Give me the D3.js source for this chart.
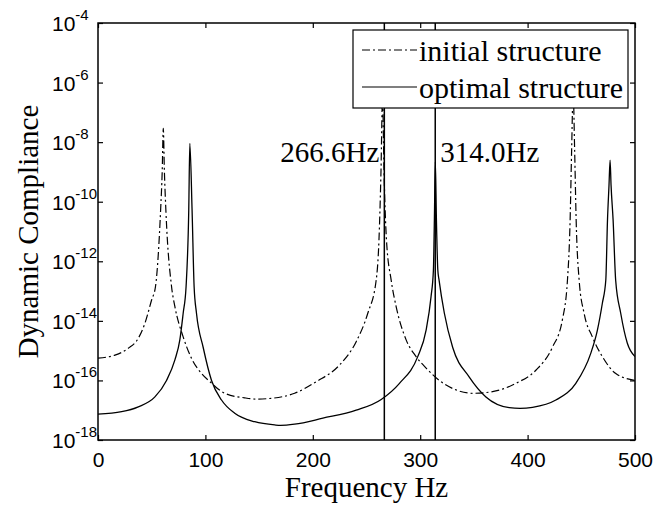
<!DOCTYPE html>
<html><head><meta charset="utf-8">
<script src="https://cdn.jsdelivr.net/npm/d3@7"></script>
<style>body{margin:0;background:#fff}</style>
</head><body><svg id="c" width="666" height="506"></svg>
<script>
const initialFreq = [0, 15.8, 28.2, 37.5, 43.7, 49.9, 53.5, 58.3, 59.8, 60.8, 61.8, 63.2, 68.5, 71.6, 79.3, 87.1, 96.4, 104.1, 118.0, 136.6, 148.0, 158.3, 183.1, 203.3, 224.9, 240.4, 251.2, 259.0, 261.6, 263.5, 264.9, 266.3, 268.6, 273.0, 277.6, 286.9, 296.2, 305.5, 317.8, 333.4, 348.8, 367.4, 389.1, 407.7, 423.1, 432.4, 437.1, 439.6, 441.0, 442.4, 443.8, 445.2, 448.0, 452.6, 460.3, 469.6, 482.1, 500];
const initialComp = [5.6e-16, 7.1e-16, 1.2e-15, 2.6e-15, 8.3e-15, 5.0e-14, 1.4e-13, 5.2e-11, 1.1e-9, 2.9e-8, 1.1e-9, 5.2e-11, 1.4e-13, 3.0e-14, 2.9e-15, 5.5e-16, 1.7e-16, 9.1e-17, 3.7e-17, 2.6e-17, 2.35e-17, 2.45e-17, 3.7e-17, 9.1e-17, 3.3e-16, 2.0e-15, 1.8e-14, 2.3e-13, 5.1e-12, 1.1e-9, 3.2e-7, 1.1e-9, 5.1e-12, 2.3e-13, 3.0e-14, 2.3e-15, 6.3e-16, 2.6e-16, 1.0e-16, 4.8e-17, 3.7e-17, 4.2e-17, 8.0e-17, 2.2e-16, 1.3e-15, 1.1e-14, 2.3e-13, 2.5e-11, 5.5e-9, 5.0e-7, 5.5e-9, 2.5e-11, 2.3e-13, 1.8e-14, 2.9e-15, 6.3e-16, 1.7e-16, 1.0e-16];
const optimalFreq = [0, 22.0, 37.5, 53.0, 63.8, 71.6, 76.2, 79.3, 82.0, 84.5, 85.5, 87.6, 89.5, 91.7, 97.9, 105.7, 115.0, 127.3, 145.9, 164.5, 170.0, 183.1, 209.4, 240.4, 263.7, 280.7, 297.7, 305.5, 310.1, 312.3, 313.2, 314.1, 315.1, 316.4, 317.6, 322.5, 330.2, 345.7, 361.2, 382.9, 393.0, 404.6, 426.3, 444.9, 458.8, 465.0, 469.6, 472.8, 474.4, 475.8, 476.8, 477.7, 479.6, 482.0, 486.7, 492.8, 500];
const optimalComp = [7.4e-18, 8.9e-18, 1.3e-17, 2.8e-17, 1.0e-16, 4.9e-16, 2.3e-15, 1.8e-14, 1.4e-13, 5.2e-11, 9.1e-9, 5.2e-11, 1.4e-13, 1.8e-14, 1.3e-15, 1.0e-16, 2.2e-17, 7.9e-18, 4.1e-18, 3.2e-18, 3.1e-18, 3.4e-18, 5.4e-18, 1.0e-17, 2.3e-17, 8.0e-17, 6.3e-16, 4.9e-15, 6.5e-14, 5.1e-13, 2.5e-11, 2.2e-9, 2.5e-11, 5.1e-13, 2.3e-13, 1.8e-14, 1.3e-15, 1.3e-16, 2.8e-17, 1.22e-17, 1.15e-17, 1.25e-17, 2.2e-17, 8.0e-17, 8.1e-16, 4.9e-15, 3.9e-14, 2.3e-13, 2.5e-11, 3.6e-10, 2.5e-9, 3.6e-10, 2.5e-11, 2.3e-13, 1.8e-14, 1.8e-15, 6.3e-16];
const markerFreq = [266.6, 314.0];
const markerLabels = ["266.6Hz", "314.0Hz"];
const xTicks = [0, 100, 200, 300, 400, 500];
const yTicks = [1e-4, 1e-6, 1e-8, 1e-10, 1e-12, 1e-14, 1e-16, 1e-18];
const yTickExp = ["-4", "-6", "-8", "-10", "-12", "-14", "-16", "-18"];
const legendLabels = ["initial structure", "optimal structure"];
const xLabel = "Frequency Hz";
const yLabel = "Dynamic Compliance";

const svg = d3.select("#c");
const L = 98, R = 635, T = 23, B = 440;
const x = d3.scaleLinear().domain([0, 500]).range([L, R]);
const y = d3.scaleLog().domain([1e-18, 1e-4]).range([B, T]);
const serif = "'Liberation Serif','Times New Roman',serif";
const sans = "'Liberation Sans',Arial,sans-serif";

svg.append("rect").attr("width", 666).attr("height", 506).attr("fill", "#fff");
svg.append("defs").append("clipPath").attr("id", "clip")
  .append("rect").attr("x", L).attr("y", T).attr("width", R - L).attr("height", B - T);

const g = svg.append("g").attr("clip-path", "url(#clip)");
const line = d3.line().curve(d3.curveMonotoneX).x(d => x(d[0])).y(d => y(d[1]));
const initData = initialFreq.map((f, i) => [f, initialComp[i]]);
const optData = optimalFreq.map((f, i) => [f, optimalComp[i]]);
const dashPat = "8,3,2,3";

g.append("path").datum(initData).attr("d", line).attr("fill", "none")
  .attr("stroke", "#000").attr("stroke-width", 1.2).attr("stroke-dasharray", dashPat);
g.append("path").datum(optData).attr("d", line).attr("fill", "none")
  .attr("stroke", "#000").attr("stroke-width", 1.3);
g.selectAll("line.mk").data(markerFreq).enter().append("line")
  .attr("x1", d => x(d)).attr("x2", d => x(d)).attr("y1", T).attr("y2", B)
  .attr("stroke", "#000").attr("stroke-width", 1.5);

// axes (box with inward ticks)
const ax = svg.append("g");
ax.append("g").attr("transform", `translate(0,${B})`)
  .call(d3.axisBottom(x).tickValues(xTicks).tickSizeInner(-5).tickSizeOuter(0).tickPadding(8))
  .call(s => { s.select(".domain").remove(); s.selectAll("text").attr("font-family", sans).attr("font-size", 21).attr("fill", "#000").attr("dy", "0.9em"); });
ax.append("g").attr("transform", `translate(0,${T})`)
  .call(d3.axisTop(x).tickValues(xTicks).tickSizeInner(-5).tickSizeOuter(0).tickFormat(""))
  .call(s => s.select(".domain").remove());
ax.append("g").attr("transform", `translate(${L},0)`)
  .call(d3.axisLeft(y).tickValues(yTicks).tickSizeInner(-5).tickSizeOuter(0).tickFormat(""))
  .call(s => s.select(".domain").remove());
ax.append("g").attr("transform", `translate(${R},0)`)
  .call(d3.axisRight(y).tickValues(yTicks).tickSizeInner(-5).tickSizeOuter(0).tickFormat(""))
  .call(s => s.select(".domain").remove());
ax.selectAll(".tick line").attr("stroke", "#000").attr("stroke-width", 1.2);
svg.append("rect").attr("x", L).attr("y", T).attr("width", R - L).attr("height", B - T)
  .attr("fill", "none").attr("stroke", "#000").attr("stroke-width", 1.5);

// y tick labels 10^n
const yl = svg.append("g");
yTicks.forEach((v, i) => {
  const t = yl.append("text").attr("x", 52).attr("y", y(v) + 8)
    .attr("font-family", sans).attr("font-size", 21).attr("fill", "#000");
  t.append("tspan").text("10");
  t.append("tspan").attr("dy", -11).attr("font-size", 15).text(yTickExp[i]);
});

// axis titles
svg.append("text").attr("x", (L + R) / 2).attr("y", 497).attr("text-anchor", "middle")
  .attr("font-family", serif).attr("font-size", 29).attr("fill", "#000").text(xLabel);
svg.append("text").attr("transform", `translate(38,${(T + B) / 2}) rotate(-90)`).attr("text-anchor", "middle")
  .attr("font-family", serif).attr("font-size", 29).attr("fill", "#000").text(yLabel);

// marker labels
svg.append("text").attr("x", x(markerFreq[0]) - 5).attr("y", 162).attr("text-anchor", "end")
  .attr("font-family", serif).attr("font-size", 29).attr("fill", "#000").text(markerLabels[0]);
svg.append("text").attr("x", x(markerFreq[1]) + 5).attr("y", 162).attr("text-anchor", "start")
  .attr("font-family", serif).attr("font-size", 29).attr("fill", "#000").text(markerLabels[1]);

// legend
const lg = svg.append("g");
lg.append("rect").attr("x", 353).attr("y", 30).attr("width", 275).attr("height", 78)
  .attr("fill", "#fff").attr("stroke", "#000").attr("stroke-width", 1.2);
const rows = [50, 87];
legendLabels.forEach((lab, i) => {
  lg.append("line").attr("x1", 362).attr("x2", 417).attr("y1", rows[i]).attr("y2", rows[i])
    .attr("stroke", "#000").attr("stroke-width", 1.2)
    .attr("stroke-dasharray", i === 0 ? dashPat : null);
  lg.append("text").attr("x", 419).attr("y", rows[i] + 11)
    .attr("font-family", serif).attr("font-size", 30).attr("fill", "#000").text(lab);
});
</script></body></html>
